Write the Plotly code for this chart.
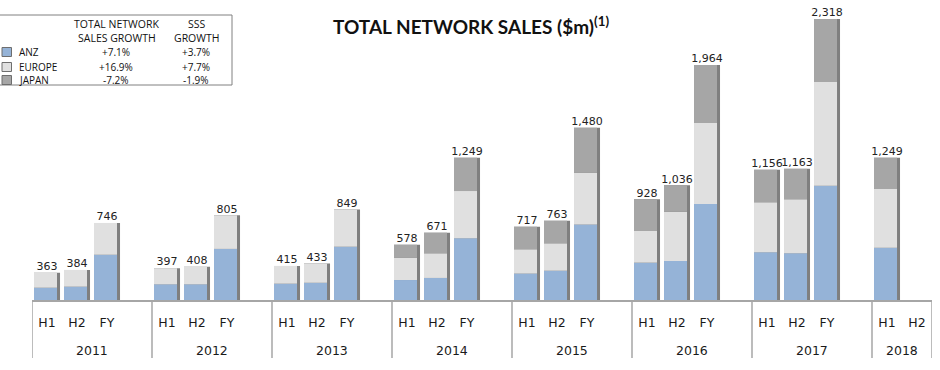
import plotly.graph_objects as go

# ---------------- data ----------------
year_labels = ["2011", "2012", "2013", "2014", "2015", "2016", "2017", "2018"]
period_labels = ["H1", "H2", "FY"]
# bars per year: H1, H2, FY (2018: H1, H2 only)
anz    = [247, 255, 501, 273, 273, 546, 278, 285, 563, 306, 322, 628, 356, 378, 734,
          440, 453, 893, 520, 512, 1032, 555, None]
europe = [116, 129, 245, 124, 135, 259, 137, 148, 286, 172, 190, 364, 187, 211, 400,
          244, 380, 624, 385, 416, 801, 453, None]
japan  = [0, 0, 0, 0, 0, 0, 0, 0, 0, 100, 159, 257, 174, 174, 346,
          244, 203, 447, 251, 235, 485, 241, None]
totals = [363, 384, 746, 397, 408, 805, 415, 433, 849, 578, 671, 1249, 717, 763, 1480,
          928, 1036, 1964, 1156, 1163, 2318, 1249, None]

legend_names = ["ANZ", "EUROPE", "JAPAN"]
network_growth = ["+7.1%", "+16.9%", "-7.2%"]
sss_growth = ["+3.7%", "+7.7%", "-1.9%"]

C_ANZ, C_EUR, C_JPN, C_SHADOW = "#95B3D7", "#E0E0E0", "#A6A6A6", "#7F7F7F"
colors = [C_ANZ, C_EUR, C_JPN]
AXIS_GRAY = "#A6A6A6"

# ---------------- build slot categories ----------------
cats, tick_vals, tick_text = [], [], []
s_anz, s_eur, s_jpn, s_tot = [], [], [], []
groups = []  # (year, first slot index, number of slots)
i = 0
for yi, yr in enumerate(year_labels):
    pers = period_labels if yi < len(year_labels) - 1 else period_labels[:2]
    start = len(cats)
    for p in pers:
        c = f"{yr} {p}"
        cats.append(c); tick_vals.append(c); tick_text.append(p)
        s_anz.append(anz[i]); s_eur.append(europe[i]); s_jpn.append(japan[i]); s_tot.append(totals[i])
        i += 1
    if "FY" in pers:
        cats.append(f"{yr} gap")
        s_anz.append(None); s_eur.append(None); s_jpn.append(None); s_tot.append(None)
    groups.append((yr, start, len(cats) - start))

def add(a, b):
    return [None if (u is None or v is None) else u + v for u, v in zip(a, b)]

base_eur = s_anz
base_jpn = add(s_anz, s_eur)

W, H = 940, 370
ML, MR, MT, MB = 32, 8, 10, 70
PW, PH = W - ML - MR, H - MT - MB
YMIN = 152
YMAX = YMIN + PH / 0.1297

def pxx(px):
    return (px - ML) / PW

def pxy(py):
    return (H - MB - py) / PH

BW, BOFF, SW = 0.767, -0.433, 0.867

fig = go.Figure()
fig.add_trace(go.Bar(x=cats, y=s_tot, base=0, width=SW, offset=BOFF,
                     marker=dict(color=C_SHADOW, line=dict(width=0)), hoverinfo="skip"))
fig.add_trace(go.Bar(x=cats, y=s_anz, base=0, width=BW, offset=BOFF, name="ANZ",
                     marker=dict(color=C_ANZ, line=dict(width=0))))
fig.add_trace(go.Bar(x=cats, y=s_eur, base=base_eur, width=BW, offset=BOFF, name="EUROPE",
                     marker=dict(color=C_EUR, line=dict(width=0))))
fig.add_trace(go.Bar(x=cats, y=s_jpn, base=base_jpn, width=BW, offset=BOFF, name="JAPAN",
                     marker=dict(color=C_JPN, line=dict(width=0))))
lab_x = [c for c, t in zip(cats, s_tot) if t is not None]
lab_y = [t for t in s_tot if t is not None]
fig.add_trace(go.Scatter(x=lab_x, y=lab_y, mode="text",
                         text=[f"{t:,}" for t in lab_y],
                         textposition="top center", cliponaxis=False,
                         textfont=dict(family="DejaVu Sans", size=11, color="#222222"),
                         hoverinfo="skip"))

shapes = []
annotations = []

# year group labels and dividers (x axis second level)
for yr, start, n in groups:
    annotations.append(dict(xref="x", yref="paper", x=start + (n - 1) / 2, y=pxy(350),
                            xanchor="center", yanchor="middle", showarrow=False, text=yr,
                            font=dict(family="DejaVu Sans", size=12.5, color="#1a1a1a")))
    shapes.append(dict(type="line", xref="x", yref="paper", x0=start - 0.5, x1=start - 0.5,
                       y0=0, y1=pxy(358), line=dict(color=AXIS_GRAY, width=1.5)))
last_yr, last_start, last_n = groups[-1]
shapes.append(dict(type="line", xref="x", yref="paper",
                   x0=last_start + last_n - 0.5, x1=last_start + last_n - 0.5,
                   y0=0, y1=pxy(358), line=dict(color=AXIS_GRAY, width=1.5)))

# title
annotations.append(dict(xref="paper", yref="paper", x=pxx(331), y=pxy(25),
                        xanchor="left", yanchor="middle", showarrow=False,
                        text="<b>TOTAL NETWORK SALES ($m)</b><sup><b>(1)</b></sup>",
                        font=dict(family="Lato", size=19, color="#111111")))

# legend table box
shapes.append(dict(type="rect", xref="paper", yref="paper",
                   x0=pxx(-2), x1=pxx(232), y0=pxy(85), y1=pxy(15),
                   line=dict(color="#808080", width=1), fillcolor="rgba(0,0,0,0)"))
HF = dict(family="Open Sans", size=10.5, color="#111111")
TF = dict(family="Open Sans", size=10, color="#111111")
for txt, x, y in [("TOTAL NETWORK", 116, 24), ("SALES GROWTH", 117, 38),
                  ("SSS", 197, 24), ("GROWTH", 197, 38)]:
    annotations.append(dict(xref="paper", yref="paper", x=pxx(x), y=pxy(y), xanchor="center",
                            yanchor="middle", showarrow=False, text=txt, font=HF))
row_y = [52, 67, 80]
for k, name in enumerate(legend_names):
    yc = row_y[k]
    shapes.append(dict(type="rect", xref="paper", yref="paper",
                       x0=pxx(2), x1=pxx(11.5), y0=pxy(yc + 4.5), y1=pxy(yc - 4.5),
                       line=dict(color="#6E6E6E", width=1), fillcolor=colors[k]))
    annotations.append(dict(xref="paper", yref="paper", x=pxx(17), y=pxy(yc), xanchor="left",
                            yanchor="middle", showarrow=False, text=name, font=TF))
    annotations.append(dict(xref="paper", yref="paper", x=pxx(116), y=pxy(yc), xanchor="center",
                            yanchor="middle", showarrow=False, text=network_growth[k], font=TF))
    annotations.append(dict(xref="paper", yref="paper", x=pxx(196), y=pxy(yc), xanchor="center",
                            yanchor="middle", showarrow=False, text=sss_growth[k], font=TF))

fig.update_layout(
    width=W, height=H,
    margin=dict(l=ML, r=MR, t=MT, b=MB, pad=0),
    barmode="overlay",
    showlegend=False,
    hovermode=False,
    plot_bgcolor="white", paper_bgcolor="white",
    shapes=shapes, annotations=annotations,
    xaxis=dict(type="category", categoryorder="array", categoryarray=cats,
               showline=True, linecolor=AXIS_GRAY, linewidth=2,
               ticks="", showgrid=False, zeroline=False,
               tickmode="array", tickvals=tick_vals, ticktext=tick_text,
               ticklabelstandoff=10, automargin=False,
               tickfont=dict(family="DejaVu Sans", size=12.5, color="#1a1a1a"),
               range=[-0.5, len(cats) - 0.5]),
    yaxis=dict(visible=False, range=[YMIN, YMAX], showgrid=False, zeroline=False),
)

fig.write_html("out.html", config={"displayModeBar": False},
               post_script="document.body.style.margin='0px';")
